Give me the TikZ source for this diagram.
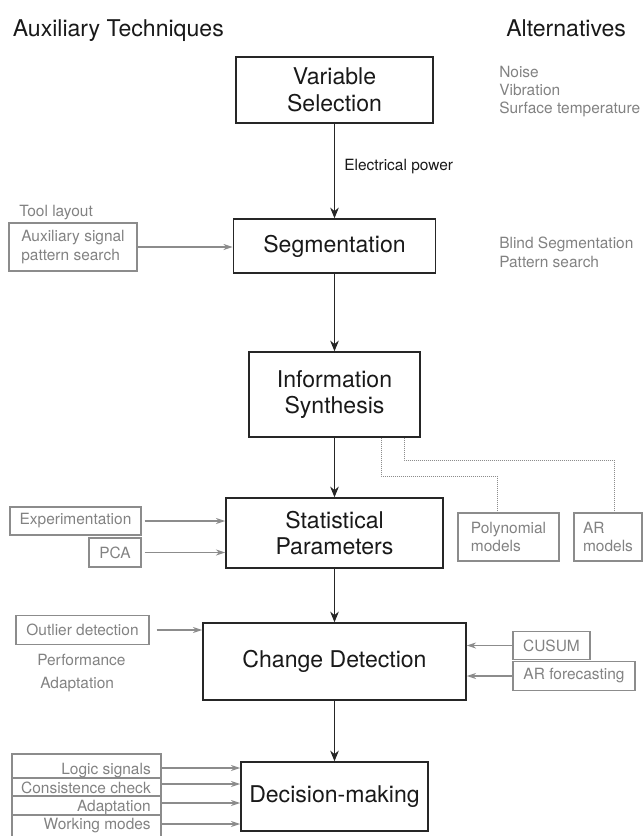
\documentclass[tikz,border=0pt]{standalone}
\usepackage{fontspec}
\setmainfont{TeX Gyre Heros}
\usetikzlibrary{arrows.meta}
\definecolor{gtext}{RGB}{130,130,130}
\definecolor{gline}{RGB}{140,140,140}
\begin{document}
\begin{tikzpicture}[x=0.75pt,y=-0.75pt,
  bigfont/.style={font=\fontsize{17.3pt}{20pt}\selectfont},
  smallfont/.style={font=\fontsize{11.6pt}{13.8pt}\selectfont},
  mainbox/.style={draw=black!85, line width=1.1pt, bigfont, align=center, inner sep=0pt, text=black!90},
  gbox/.style={draw=gline, line width=0.9pt, smallfont, text=gtext, inner sep=0pt},
  glabel/.style={smallfont, text=gtext, inner sep=0pt},
  marrow/.style={-{Stealth[length=8pt,width=6.5pt]}, line width=0.8pt, black!85},
  garrow/.style={-{Stealth[length=7pt,width=4.5pt]}, line width=0.9pt, gline},
  dotline/.style={gline, line width=0.6pt, dash pattern=on 0.6pt off 0.9pt},
  sepline/.style={gline, line width=0.9pt}
]
\useasboundingbox (0,0) rectangle (643,836);

% titles
\node[bigfont, anchor=base west, inner sep=0pt, text=black!90] (t1) at (12.5,36) {Auxiliary Techniques};
\node[bigfont, anchor=base west, inner sep=0pt, text=black!90] (t2) at (506,36) {Alternatives};

% main boxes
\node[mainbox, minimum width=147.75pt, minimum height=49.5pt] (vs) at (334.5,90) {Variable\\Selection};
\node[mainbox, minimum width=151.5pt, minimum height=40.5pt] (seg) at (334.5,246) {Segmentation};
\node[mainbox, minimum width=128.25pt, minimum height=63.75pt] (is) at (334.5,394.5) {Information\\Synthesis};
\node[mainbox, minimum width=162.75pt, minimum height=52.5pt] (sp) at (334.5,533) {Statistical\\Parameters};
\node[mainbox, minimum width=197.25pt, minimum height=57.75pt] (cd) at (334.5,661.5) {Change Detection};
\node[mainbox, minimum width=140.25pt, minimum height=51.75pt] (dm) at (334.5,796.5) {Decision-making};

% main arrows
\draw[marrow] (vs.south) -- (vs.south |- seg.north);
\draw[marrow] (seg.south) -- (seg.south |- is.north);
\draw[marrow] (is.south) -- (is.south |- sp.north);
\draw[marrow] (sp.south) -- (sp.south |- cd.north);
\draw[marrow] (cd.south) -- (cd.south |- dm.north);

% labels
\node[smallfont, anchor=base west, inner sep=0pt, text=black!90] (elec) at (344,170) {Electrical power};
\node[glabel, anchor=base west] (alt1) at (499,77) {Noise};
\node[glabel, anchor=base west] (alt2) at (499,95) {Vibration};
\node[glabel, anchor=base west] (alt3) at (499,113) {Surface temperature};
\node[glabel, anchor=base west] (tool) at (19,216) {Tool layout};
\node[glabel, anchor=base west] (blind) at (499,248) {Blind Segmentation};
\node[glabel, anchor=base west] (patt) at (499,267) {Pattern search};
\node[glabel, anchor=base west] (perf) at (37,665) {Performance};
\node[glabel, anchor=base west] (adapt) at (40,688) {Adaptation};

% gray boxes
\node[gbox, align=left, minimum width=96pt, minimum height=36pt] (aux) at (73,247) {Auxiliary signal\\pattern search};
\node[gbox, align=left, minimum width=75.75pt, minimum height=36pt] (poly) at (508.5,537) {Polynomial\\models};
\node[gbox, align=left, minimum width=51pt, minimum height=36pt] (ar) at (608,537) {AR\\models};
\node[gbox, minimum width=98.25pt, minimum height=21pt] (exp) at (75.5,521) {Experimentation};
\node[gbox, minimum width=39pt, minimum height=21.75pt] (pca) at (115,552.5) {PCA};
\node[gbox, minimum width=99.75pt, minimum height=21.75pt] (outl) at (82.5,630) {Outlier detection};
\node[gbox, minimum width=57.75pt, minimum height=21pt] (cusum) at (551.5,645.5) {CUSUM};
\node[gbox, minimum width=91.5pt, minimum height=21.75pt] (arf) at (574,676) {AR forecasting};

% decision inputs stack
\node[gbox, minimum width=111.75pt, minimum height=62.25pt] (stack) at (86.5,795.5) {};
\draw[sepline] (12,778) -- (161,778);
\draw[sepline] (12,796) -- (161,796);
\draw[sepline] (12,815) -- (161,815);
\node[glabel, anchor=base east] (r1) at (151,774) {Logic signals};
\node[glabel, anchor=base east] (r2) at (151,793) {Consistence check};
\node[glabel, anchor=base east] (r3) at (151,811) {Adaptation};
\node[glabel, anchor=base east] (r4) at (151,829.5) {Working modes};
\coordinate (s1) at (161,768);
\coordinate (s2) at (161,784);
\coordinate (s3) at (161,803);
\coordinate (s4) at (161,824);

% gray arrows
\draw[garrow] (aux.east) -- (aux.east -| seg.west);
\draw[garrow, shorten <=2.25pt] (exp.east) -- (exp.east -| sp.west);
\draw[garrow, shorten <=2.25pt] (pca.east) -- (pca.east -| sp.west);
\draw[garrow, shorten <=5.25pt] (outl.east) -- (outl.east -| cd.west);
\draw[garrow] (cusum.west) -- (cusum.west -| cd.east);
\draw[garrow] (arf.west) -- (arf.west -| cd.east);
\draw[garrow] (s1) -- (s1 -| dm.west);
\draw[garrow] (s2) -- (s2 -| dm.west);
\draw[garrow] (s3) -- (s3 -| dm.west);
\draw[garrow] (s4) -- (s4 -| dm.west);

% dotted connectors
\coordinate (x1) at (381,476);
\coordinate (x1b) at (497,476);
\coordinate (x2) at (404,460);
\coordinate (x2b) at (614,460);
\draw[dotline] (is.south -| x1) -- (x1) -- (x1b) -- (x1b |- poly.north);
\draw[dotline] (is.south -| x2) -- (x2) -- (x2b) -- (x2b |- ar.north);
\end{tikzpicture}
\end{document}
